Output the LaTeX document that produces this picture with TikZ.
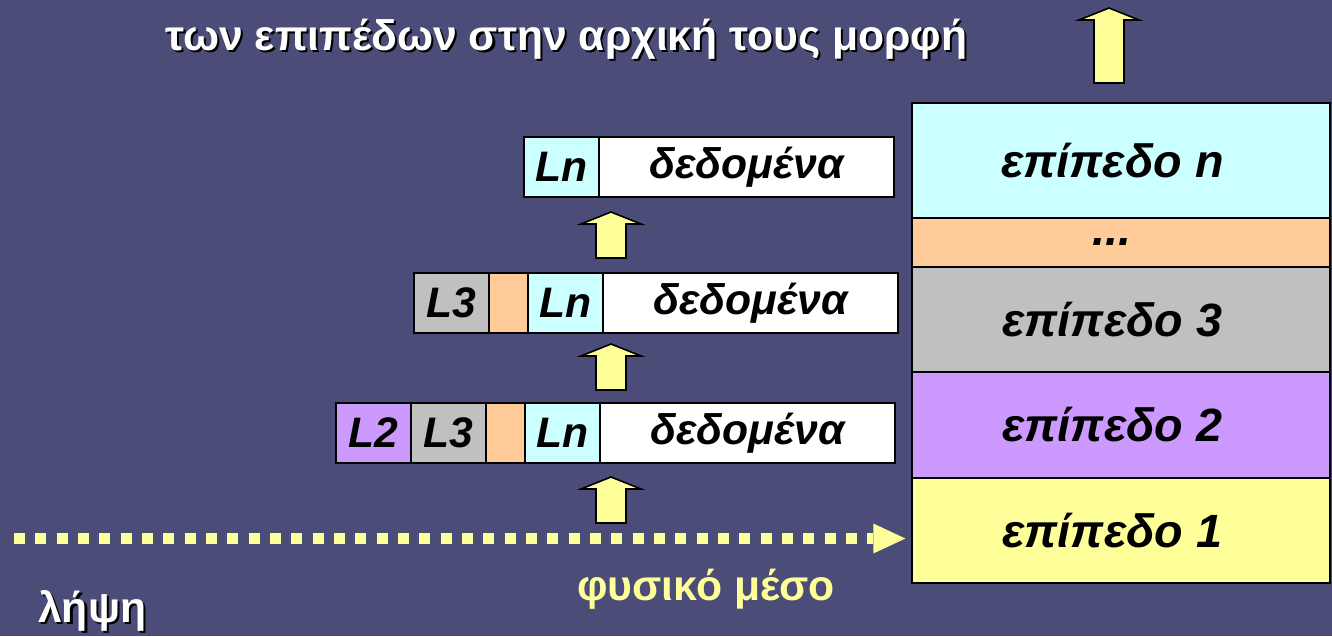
\documentclass[tikz,border=0pt]{standalone}
\usepackage{fontspec}
\setmainfont{Liberation Sans}
\usetikzlibrary{positioning, arrows.meta}

\definecolor{slide}{RGB}{76,76,120}
\definecolor{cyanL}{HTML}{CCFFFF}
\definecolor{orangeL}{HTML}{FFCC99}
\definecolor{grayL}{HTML}{C0C0C0}
\definecolor{purpleL}{HTML}{CC99FF}
\definecolor{yellowL}{HTML}{FFFF99}

\newcommand\shadowed[1]{\makebox[0pt][l]{\hspace{1.6pt}\raisebox{-1.6pt}{\color{black}#1}}#1}

\tikzset{
    every field/.style={draw=black, line width=1pt, rectangle, outer sep=0pt,
        inner sep=0pt, minimum height=45pt,
        font=\fontsize{32}{34}\selectfont\bfseries\itshape},
    field L/.style={every field, minimum width=56.25pt},
    field gap/.style={every field, fill=orangeL, minimum width=29.25pt},
    field data/.style={every field, fill=white, minimum width=221.25pt},
    layer/.style={draw=black, line width=1pt, rectangle, outer sep=0pt,
        minimum width=313.5pt, anchor=north west,
        font=\fontsize{35}{38}\selectfont\bfseries\itshape},
    slide text/.style={font=\fontsize{32}{34}\selectfont\bfseries, inner sep=0pt},
    blockarrow/.style={draw=black, line width=1.2pt, fill=yellowL, line join=miter},
    medium/.style={draw=yellowL, line width=8.25pt, dash pattern=on 8.25pt off 7.75pt,
        -{Triangle[length=24pt, width=22.5pt, line width=0pt]}, shorten >=5pt},
    pics/uparrow/.style={code={
        \draw[blockarrow] (-15,#1) -- (-15,12) -- (-30,12) -- (0,0)
            -- (30,12) -- (15,12) -- (15,#1) -- cycle;}}
}

\begin{document}
\begin{tikzpicture}[x=0.75pt, y=-0.75pt]

\fill[slide] (0,0) rectangle (1332,636);
\useasboundingbox (0,0) rectangle (1332,636);

% protocol stack
\foreach \n/\t/\c/\top/\h in {n/{επίπεδο n}/cyanL/103/86.25pt,
        dots/{...}/orangeL/218/36.75pt, 3/{επίπεδο 3}/grayL/267/78.75pt,
        2/{επίπεδο 2}/purpleL/372/79.5pt, 1/{επίπεδο 1}/yellowL/478/78.75pt}
    \node [layer, fill=\c, minimum height=\h] (lay-\n) at (912, \top) {\t\hspace*{13pt}};

% packets, top to bottom
\node [field L, fill=cyanL, anchor=north west] (r1-ln) at (524, 137) {Ln};
\node [field data, right=0pt of r1-ln] (r1-dat) {δεδομένα};

\node [field L, fill=grayL, anchor=north west] (r2-l3) at (414, 273) {L3};
\node [field gap, right=0pt of r2-l3] (r2-gap) {};
\node [field L, fill=cyanL, right=0pt of r2-gap] (r2-ln) {Ln};
\node [field data, right=0pt of r2-ln] (r2-dat) {δεδομένα};

\node [field L, fill=purpleL, anchor=north west] (r3-l2) at (336, 403) {L2};
\node [field L, fill=grayL, right=0pt of r3-l2] (r3-l3) {L3};
\node [field gap, right=0pt of r3-l3] (r3-gap) {};
\node [field L, fill=cyanL, right=0pt of r3-gap] (r3-ln) {Ln};
\node [field data, right=0pt of r3-ln] (r3-dat) {δεδομένα};

% upward arrows
\foreach \y in {212, 344, 477}
    \pic at (611, \y) {uparrow=46};
\pic at (1109, 8) {uparrow=75};

% physical medium
\coordinate (medium-start) at (14, 538.5);
\draw [medium] (medium-start) -- (medium-start -| lay-1.west);
\node [slide text, text=yellowL, anchor=base] (medium-label) at (706, 600) {φυσικό μέσο};

% texts
\node [slide text, text=white, anchor=base west] (title) at (165, 50)
    {\shadowed{των επιπέδων στην αρχική τους μορφή}};
\node [slide text, text=white, anchor=base west] (receive) at (38, 622) {\shadowed{λήψη}};

\end{tikzpicture}
\end{document}
